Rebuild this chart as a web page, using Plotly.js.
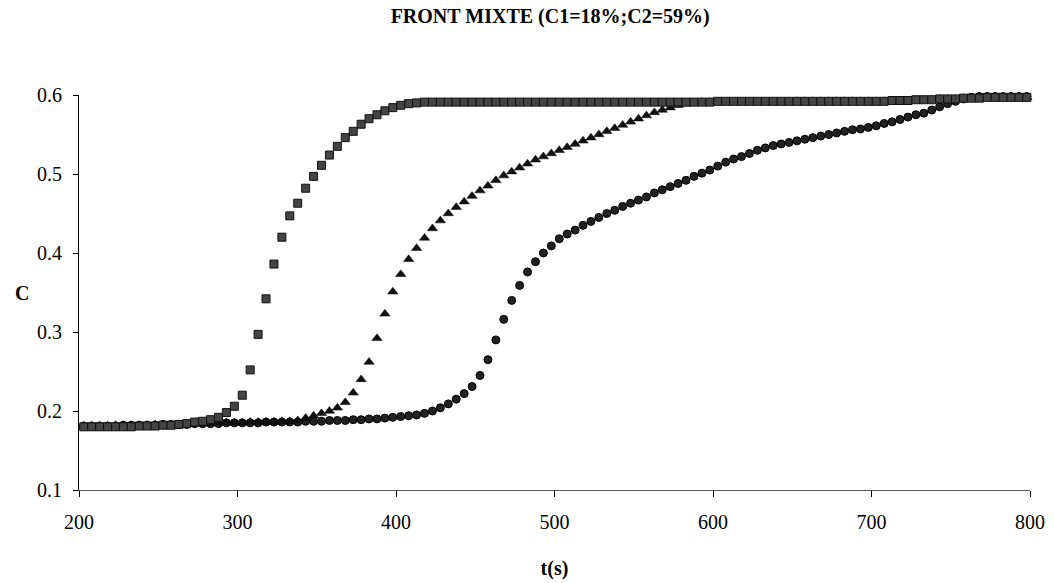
<!DOCTYPE html>
<html><head><meta charset="utf-8">
<script src="https://cdn.plot.ly/plotly-3.0.1.min.js"></script>
<style>html,body{margin:0;padding:0;background:#fff;}#chart{width:1054px;height:583px;}</style>
</head><body><div id="chart"></div>
<script>
const timeS = [203,208,213,218,223,228,233,238,243,248,
253,258,263,268,273,278,283,288,293,298,
303,308,313,318,323,328,333,338,343,348,
353,358,363,368,373,378,383,388,393,398,
403,408,413,418,423,428,433,438,443,448,
453,458,463,468,473,478,483,488,493,498,
503,508,513,518,523,528,533,538,543,548,
553,558,563,568,573,578,583,588,593,598,
603,608,613,618,623,628,633,638,643,648,
653,658,663,668,673,678,683,688,693,698,
703,708,713,718,723,728,733,738,743,748,
753,758,763,768,773,778,783,788,793,798];

const cSquares = [0.180,0.180,0.180,0.180,0.180,0.180,0.180,0.181,0.181,0.181,
0.182,0.182,0.183,0.184,0.186,0.187,0.189,0.192,0.198,0.206,
0.220,0.252,0.297,0.342,0.386,0.420,0.447,0.463,0.482,0.497,
0.511,0.524,0.535,0.546,0.554,0.563,0.570,0.575,0.580,0.584,
0.587,0.589,0.590,0.591,0.591,0.591,0.591,0.591,0.591,0.591,
0.591,0.591,0.591,0.591,0.591,0.591,0.591,0.591,0.591,0.591,
0.591,0.591,0.591,0.591,0.591,0.591,0.591,0.591,0.591,0.591,
0.591,0.591,0.591,0.591,0.591,0.591,0.591,0.591,0.591,0.591,
0.592,0.592,0.592,0.592,0.592,0.592,0.592,0.592,0.592,0.592,
0.592,0.592,0.592,0.592,0.592,0.592,0.592,0.592,0.592,0.592,
0.592,0.592,0.593,0.593,0.593,0.594,0.594,0.594,0.595,0.595,
0.595,0.596,0.596,0.596,0.597,0.597,0.597,0.597,0.597,0.597];

const cTriangles = [0.181,0.181,0.181,0.181,0.182,0.182,0.182,0.182,0.182,0.183,
0.183,0.183,0.183,0.184,0.184,0.184,0.184,0.185,0.185,0.185,
0.185,0.186,0.186,0.186,0.186,0.187,0.187,0.188,0.191,0.194,
0.197,0.200,0.204,0.211,0.223,0.240,0.262,0.292,0.323,0.351,
0.373,0.392,0.406,0.419,0.431,0.441,0.450,0.458,0.465,0.472,
0.479,0.485,0.492,0.498,0.503,0.508,0.513,0.518,0.522,0.526,
0.530,0.534,0.538,0.542,0.546,0.550,0.554,0.558,0.562,0.566,
0.570,0.574,0.578,0.581,0.584,0.587,0.589,0.590,0.591,0.591,
0.591,0.591,0.591,0.591,0.591,0.591,0.591,0.591,0.591,0.591,
0.592,0.592,0.592,0.592,0.592,0.592,0.592,0.592,0.592,0.592,
0.592,0.592,0.593,0.593,0.593,0.594,0.594,0.594,0.595,0.595,
0.595,0.596,0.596,0.596,0.597,0.597,0.597,0.597,0.597,0.597];

const cCircles = [0.181,0.181,0.181,0.181,0.181,0.182,0.182,0.182,0.182,0.182,
0.183,0.183,0.183,0.183,0.184,0.184,0.184,0.184,0.185,0.185,
0.185,0.185,0.185,0.186,0.186,0.186,0.186,0.186,0.187,0.187,
0.187,0.188,0.188,0.188,0.189,0.189,0.190,0.190,0.191,0.192,
0.193,0.194,0.195,0.197,0.200,0.204,0.209,0.215,0.222,0.231,
0.245,0.265,0.290,0.316,0.340,0.359,0.376,0.389,0.400,0.409,
0.418,0.424,0.429,0.435,0.440,0.445,0.450,0.454,0.459,0.463,
0.467,0.471,0.476,0.480,0.484,0.488,0.492,0.497,0.501,0.505,
0.510,0.515,0.519,0.522,0.526,0.530,0.533,0.536,0.538,0.540,
0.542,0.544,0.546,0.548,0.550,0.552,0.554,0.556,0.557,0.559,
0.561,0.564,0.566,0.569,0.572,0.575,0.577,0.581,0.585,0.589,
0.592,0.595,0.597,0.598,0.598,0.598,0.598,0.598,0.598,0.598];

const titleText = "FRONT MIXTE (C1=18%;C2=59%)";
const xTickVals = [200,300,400,500,600,700,800];
const yTickVals = [0.1,0.2,0.3,0.4,0.5,0.6];
const yTickText = ["0.1","0.2","0.3","0.4","0.5","0.6"];

const serif = "Liberation Serif, Times New Roman, serif";

const traces = [
  {x: timeS, y: cCircles, type: 'scatter', mode: 'markers', name: 'cercles',
   marker: {symbol: 'circle', size: 8, color: '#222', line: {color: '#000', width: 1}}, cliponaxis: false},
  {x: timeS, y: cTriangles, type: 'scatter', mode: 'markers', name: 'triangles',
   marker: {symbol: 'triangle-up', size: 9, color: '#111', line: {color: '#000', width: 0.5}}, cliponaxis: false},
  {x: timeS, y: cSquares, type: 'scatter', mode: 'markers', name: 'carrés',
   marker: {symbol: 'square', size: 8, color: '#444', line: {color: '#111', width: 1}}, cliponaxis: false}
];

const layout = {
  width: 1054, height: 583,
  margin: {l: 79, r: 24, t: 95, b: 93},
  paper_bgcolor: '#fff', plot_bgcolor: '#fff',
  showlegend: false,
  title: {text: '<b>' + titleText + '</b>', font: {family: serif, size: 20, color: '#000'},
          x: 0.522, xanchor: 'center', xref: 'container', y: 0.972, yanchor: 'middle', yref: 'container'},
  xaxis: {range: [200, 800], tickmode: 'array', tickvals: xTickVals, ticks: 'outside', ticklen: 6,
          tickcolor: '#000', showline: true, linecolor: '#555', linewidth: 1, showgrid: false, zeroline: false,
          tickfont: {family: serif, size: 20, color: '#000'}, ticklabelstandoff: 8,
          title: {text: '<b>t(s)</b>', font: {family: serif, size: 20, color: '#000'}, standoff: 28}},
  yaxis: {range: [0.1, 0.6], tickmode: 'array', tickvals: yTickVals, ticktext: yTickText, ticks: 'outside', ticklen: 5,
          tickcolor: '#000', showline: true, linecolor: '#000', linewidth: 1, showgrid: false, zeroline: false,
          tickfont: {family: serif, size: 20, color: '#000'}, ticklabelstandoff: 7},
  annotations: [{text: '<b>C</b>', xref: 'paper', yref: 'paper', x: -0.06, y: 0.5, xanchor: 'center', yanchor: 'middle',
                 showarrow: false, font: {family: serif, size: 20, color: '#000'}}]
};

Plotly.newPlot('chart', traces, layout, {displayModeBar: false, staticPlot: true});
</script>
</body></html>
